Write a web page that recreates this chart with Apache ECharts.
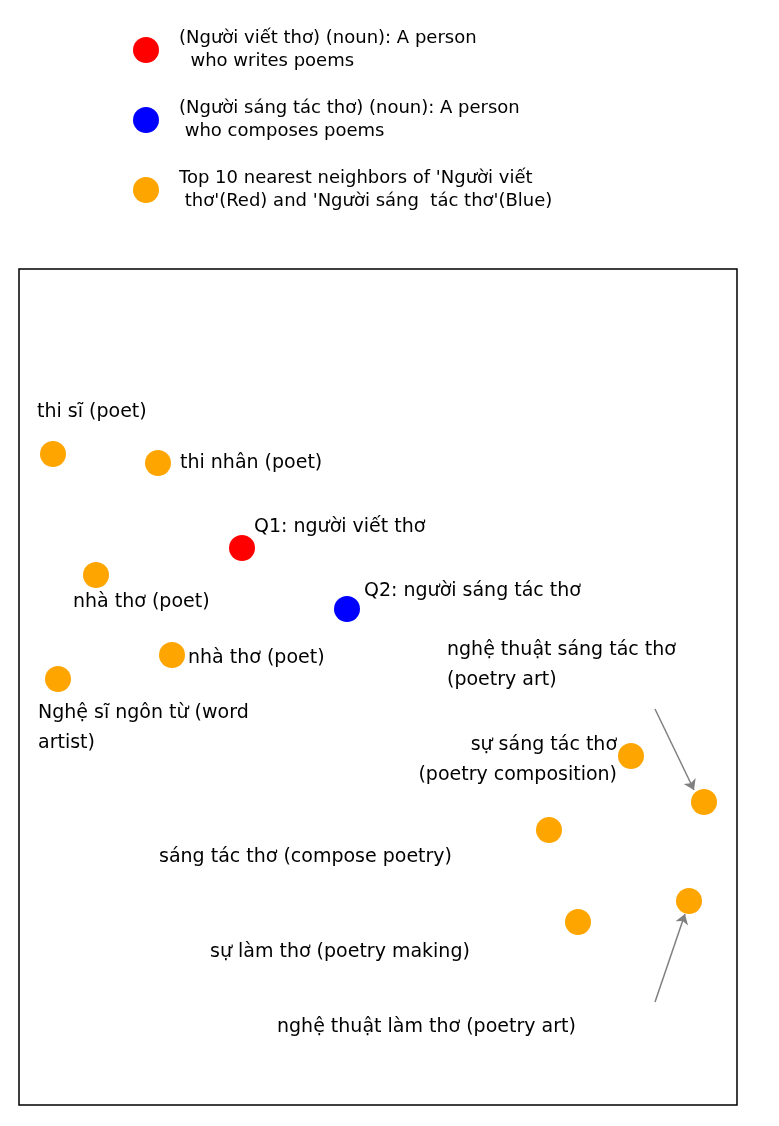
<!DOCTYPE html>
<html>
<head>
<meta charset="utf-8">
<script src="https://cdn.jsdelivr.net/npm/echarts@6/dist/echarts.min.js"></script>
<style>html,body{margin:0;padding:0;background:#fff}</style>
</head>
<body>
<div id="main" style="width:779px;height:1126px"></div>
<script>
// series names (legend)
var seriesNames = [
    '(Người viết thơ) (noun): A person\n  who writes poems',
    '(Người sáng tác thơ) (noun): A person\n who composes poems',
    "Top 10 nearest neighbors of 'Người viết\n thơ'(Red) and 'Người sáng  tác thơ'(Blue)"
];
// points: [x, y (from top), label, dx, dy, align]
var redPoints = [[223, 279, 'Q1: người viết thơ', 12, -21, 'left']];
var bluePoints = [[328, 340, 'Q2: người sáng tác thơ', 17, -18, 'left']];
var orangePoints = [
    [34, 185, 'thi sĩ (poet)', -16, -42, 'left'],
    [139, 194, 'thi nhân (poet)', 22, 0, 'left'],
    [77, 306, 'nhà thơ (poet)', -23, 27, 'left'],
    [153, 386, 'nhà thơ (poet)', 16, 3, 'left'],
    [39, 410, 'Nghệ sĩ ngôn từ (word\nartist)', -20, 49, 'left'],
    [612, 487, 'sự sáng tác thơ\n(poetry composition)', -14, 4, 'right'],
    [685, 533, 'nghệ thuật sáng tác thơ\n(poetry art)', -257, -137, 'left'],
    [530, 561, 'sáng tác thơ (compose poetry)', -390, 27, 'left'],
    [670, 632, 'nghệ thuật làm thơ (poetry art)', -412, 126, 'left'],
    [559, 653, 'sự làm thơ (poetry making)', -368, 30, 'left']
];
var arrows = [
    [[636, 440], [675, 521]],
    [[636, 733], [666, 645]]
];

function toData(list) {
    return list.map(function (p) {
        return {
            value: [p[0], p[1]],
            label: { formatter: p[2], offset: [p[3], p[4]], align: p[5] }
        };
    });
}
function scatter(name, color, list) {
    return {
        name: name,
        type: 'scatter',
        symbolSize: 26,
        itemStyle: { color: color, opacity: 1 },
        label: {
            show: true,
            position: 'inside',
            verticalAlign: 'middle',
            color: '#000',
            fontFamily: 'DejaVu Sans',
            fontSize: 19,
            lineHeight: 30
        },
        data: toData(list)
    };
}

var myChart = echarts.init(document.getElementById('main'));
myChart.setOption({
    animation: false,
    legend: {
        orient: 'vertical',
        left: 128,
        top: 22,
        icon: 'circle',
        itemWidth: 26,
        itemHeight: 26,
        itemGap: 24,
        textStyle: {
            fontFamily: 'DejaVu Sans',
            fontSize: 18,
            lineHeight: 23,
            color: '#000',
            padding: [0, 0, 0, 15]
        },
        data: seriesNames
    },
    grid: {
        left: 19, top: 269, width: 718, height: 836,
        show: true, borderColor: '#000', borderWidth: 1.5
    },
    xAxis: { type: 'value', min: 0, max: 718, show: false },
    yAxis: { type: 'value', min: 0, max: 836, inverse: true, show: false },
    series: [
        scatter(seriesNames[0], '#ff0000', redPoints),
        scatter(seriesNames[1], '#0000ff', bluePoints),
        scatter(seriesNames[2], '#ffa500', orangePoints),
        {
            type: 'lines',
            coordinateSystem: 'cartesian2d',
            symbol: ['none', 'arrow'],
            symbolSize: 10,
            lineStyle: { color: '#808080', width: 1.5, opacity: 1 },
            data: arrows.map(function (a) { return { coords: a }; })
        }
    ]
});
</script>
</body>
</html>
